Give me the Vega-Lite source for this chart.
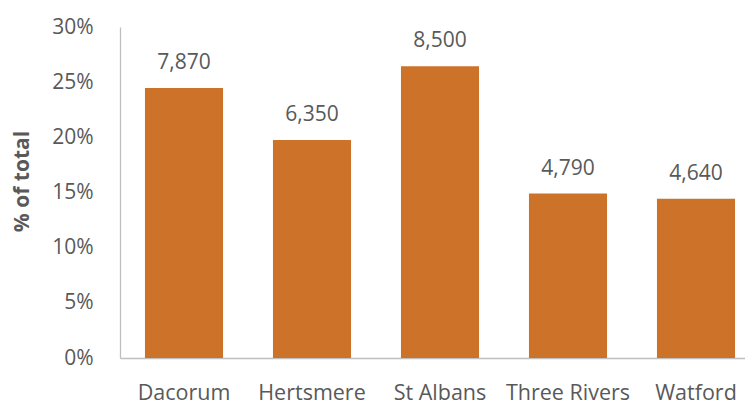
{
  "$schema": "https://vega.github.io/schema/vega-lite/v6.json",
  "autosize": {"type": "none"},
  "width": 625,
  "height": 331,
  "padding": {"left": 120, "top": 27, "right": 0, "bottom": 47},
  "background": "white",
  "config": {
    "view": {"stroke": null},
    "font": "Open Sans"
  },
  "data": {
    "values": [
      {"district": "Dacorum", "count": 7870, "pct": 0.2448},
      {"district": "Hertsmere", "count": 6350, "pct": 0.1975},
      {"district": "St Albans", "count": 8500, "pct": 0.2644},
      {"district": "Three Rivers", "count": 4790, "pct": 0.1490},
      {"district": "Watford", "count": 4640, "pct": 0.1443}
    ]
  },
  "encoding": {
    "x": {
      "field": "district",
      "type": "nominal",
      "sort": null,
      "scale": {"range": [0, 640], "paddingInner": 0.39, "paddingOuter": 0.195},
      "axis": {
        "title": null,
        "labelAngle": 0,
        "labelFontSize": 21.5,
        "labelColor": "#595959",
        "labelPadding": 24,
        "ticks": false,
        "domainColor": "#BFBFBF",
        "domainWidth": 1.3
      }
    },
    "y": {
      "field": "pct",
      "type": "quantitative",
      "scale": {"domain": [0, 0.3]},
      "axis": {
        "format": ".0%",
        "values": [0, 0.05, 0.1, 0.15, 0.2, 0.25, 0.3],
        "grid": false,
        "ticks": false,
        "labelFontSize": 21,
        "labelColor": "#595959",
        "labelPadding": 27,
        "domainColor": "#BFBFBF",
        "domainWidth": 1.3,
        "title": "% of total",
        "titleFontSize": 21,
        "titleFontWeight": "bold",
        "titleColor": "#595959",
        "titleX": -98,
        "titleY": 154,
        "titleAngle": 270,
        "titleAlign": "center",
        "titleBaseline": "middle"
      }
    }
  },
  "layer": [
    {"mark": {"type": "bar", "color": "#CC7329"}},
    {
      "mark": {"type": "text", "baseline": "bottom", "dy": -15, "fontSize": 21, "color": "#595959"},
      "encoding": {"text": {"field": "count", "type": "quantitative", "format": ","}}
    }
  ]
}
